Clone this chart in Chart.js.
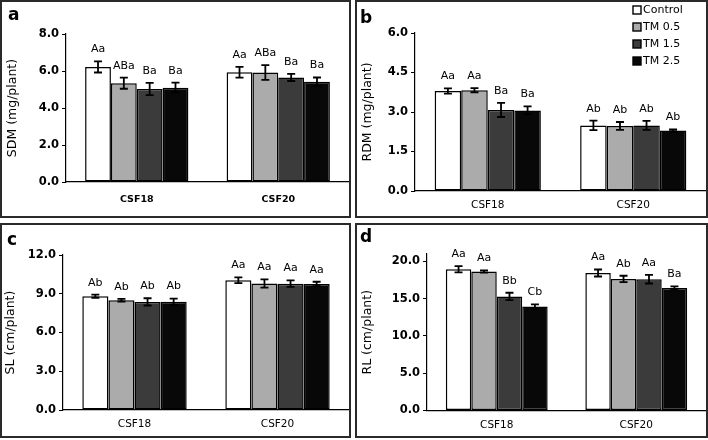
<!DOCTYPE html>
<html>
<head>
<meta charset="utf-8">
<script src="https://cdn.jsdelivr.net/npm/chart.js@4.4.1/dist/chart.umd.min.js"></script>
<style>
html, body { margin: 0; padding: 0; background: #fff; }
body { width: 708px; height: 440px; position: relative; overflow: hidden; }
.panel { position: absolute; box-sizing: border-box; border: 2px solid #2a2a2a; background: #fff; }
.panel .box { position: absolute; left: 0; top: 0; right: 0; bottom: 0; }
</style>
</head>
<body>
<div class="panel" style="left:0px;top:0px;width:351px;height:218px;"><div class="box"><canvas id="ca"></canvas></div></div>
<div class="panel" style="left:355px;top:0px;width:353px;height:218px;"><div class="box"><canvas id="cb"></canvas></div></div>
<div class="panel" style="left:0px;top:223px;width:351px;height:215px;"><div class="box"><canvas id="cc"></canvas></div></div>
<div class="panel" style="left:355px;top:223px;width:353px;height:215px;"><div class="box"><canvas id="cd"></canvas></div></div>
<script>
// ---- data ----
const categories = ['CSF18', 'CSF20'];
const seriesNames = ['Control', 'TM 0.5', 'TM 1.5', 'TM 2.5'];
const seriesColors = ['#ffffff', '#ababab', '#3b3b3b', '#080808'];

// rows = series (Control, TM 0.5, TM 1.5, TM 2.5), columns = categories (CSF18, CSF20)
const sdmMean = [[6.22, 5.93], [5.34, 5.92], [5.03, 5.65], [5.10, 5.42]];
const sdmErr = [[0.30, 0.29], [0.30, 0.40], [0.33, 0.19], [0.27, 0.23]];
const sdmLetters = [['Aa', 'Aa'], ['ABa', 'ABa'], ['Ba', 'Ba'], ['Ba', 'Ba']];
const sdmAxis = [0, 8, 2];

const rdmMean = [[3.80, 2.49], [3.83, 2.47], [3.08, 2.49], [3.06, 2.30]];
const rdmErr = [[0.10, 0.18], [0.08, 0.15], [0.27, 0.17], [0.15, 0.04]];
const rdmLetters = [['Aa', 'Ab'], ['Aa', 'Ab'], ['Ba', 'Ab'], ['Ba', 'Ab']];
const rdmAxis = [0, 6, 1.5];

const slMean = [[8.81, 10.05], [8.50, 9.79], [8.37, 9.78], [8.38, 9.76]];
const slErr = [[0.12, 0.22], [0.10, 0.32], [0.28, 0.25], [0.25, 0.17]];
const slLetters = [['Ab', 'Aa'], ['Ab', 'Aa'], ['Ab', 'Aa'], ['Ab', 'Aa']];
const slAxis = [0, 12, 3];

const rlMean = [[18.95, 18.45], [18.65, 17.65], [15.30, 17.62], [13.95, 16.45]];
const rlErr = [[0.42, 0.47], [0.15, 0.43], [0.50, 0.58], [0.30, 0.20]];
const rlLetters = [['Aa', 'Aa'], ['Aa', 'Ab'], ['Bb', 'Aa'], ['Cb', 'Ba']];
const rlAxis = [0, 21, 5];

// ---- drawing ----
const FONT = 'DejaVu Sans';
Chart.defaults.font.family = FONT;
Chart.defaults.color = '#000';

const decor = {
  id: 'decor',
  afterDatasetsDraw(chart, args, o) {
    const ctx = chart.ctx;
    const ys = chart.scales.y;
    ctx.save();
    chart.data.datasets.forEach((ds, i) => {
      const meta = chart.getDatasetMeta(i);
      meta.data.forEach((bar, j) => {
        const m = ds.data[j], e = o.errs[i][j];
        const yt = ys.getPixelForValue(m + e), yb = ys.getPixelForValue(m - e);
        ctx.strokeStyle = '#000';
        ctx.lineWidth = 1.8;
        ctx.beginPath();
        ctx.moveTo(bar.x, yt); ctx.lineTo(bar.x, yb);
        ctx.moveTo(bar.x - 4, yt); ctx.lineTo(bar.x + 4, yt);
        ctx.moveTo(bar.x - 4, yb); ctx.lineTo(bar.x + 4, yb);
        ctx.stroke();
        ctx.fillStyle = '#000';
        ctx.font = '11px "' + FONT + '"';
        ctx.textAlign = 'center';
        ctx.textBaseline = 'middle';
        ctx.fillText(o.letters[i][j], bar.x, yt - 12);
      });
    });
    ctx.fillStyle = '#000';
    ctx.font = 'bold 17px "' + FONT + '"';
    ctx.textAlign = 'left';
    ctx.textBaseline = 'alphabetic';
    ctx.fillText(o.panel, o.px, o.py);
    if (o.legend) {
      ctx.font = '11px "' + FONT + '"';
      ctx.textBaseline = 'middle';
      seriesNames.forEach((n, i) => {
        const cy = o.legend.y + i * o.legend.dy;
        ctx.fillStyle = seriesColors[i];
        ctx.fillRect(o.legend.x, cy - 4, 8, 8);
        ctx.strokeStyle = '#000';
        ctx.lineWidth = 1.4;
        ctx.strokeRect(o.legend.x, cy - 4, 8, 8);
        ctx.fillStyle = '#000';
        ctx.fillText(n, o.legend.x + 10, cy + 0.5);
      });
    }
    ctx.restore();
  }
};

function makePanel(id, o) {
  new Chart(document.getElementById(id), {
    type: 'bar',
    data: {
      labels: categories,
      datasets: seriesNames.map((n, i) => ({
        label: n,
        data: o.mean[i],
        backgroundColor: seriesColors[i],
        borderColor: '#000',
        borderWidth: 1.5,
        borderSkipped: false,
        categoryPercentage: 0.73,
        barPercentage: 1.0
      }))
    },
    options: {
      responsive: true,
      maintainAspectRatio: false,
      animation: false,
      events: [],
      layout: { autoPadding: false, padding: { top: o.top, left: 0, right: 0, bottom: 0 } },
      plugins: {
        legend: { display: false },
        tooltip: { enabled: false },
        decor: { errs: o.err, letters: o.letters, panel: o.panel, px: o.px, py: o.py, legend: o.legend || null }
      },
      scales: {
        x: {
          grid: { display: false, drawTicks: false },
          border: { display: true, color: '#000', width: 1.2 },
          ticks: { color: '#000', padding: o.xpad, font: { family: FONT, size: o.xsize, weight: o.xbold ? 'bold' : 'normal' } },
          afterFit: s => { s.height = o.xh; }
        },
        y: {
          min: o.axis[0], max: o.axis[1],
          ticks: {
            stepSize: o.axis[2], includeBounds: false, color: '#000', padding: 3,
            font: { family: FONT, size: 11.5, weight: 'bold' },
            callback: v => Number(v).toFixed(1)
          },
          grid: { display: true, drawOnChartArea: false, drawTicks: true, tickLength: 4, color: '#000' },
          border: { display: true, color: '#000', width: 1.2 },
          title: { display: true, text: o.title, color: '#000', font: { family: FONT, size: 12.5 }, padding: { top: o.tpad, bottom: 0 } },
          afterFit: s => { s.width = o.yw; }
        }
      }
    },
    plugins: [decor]
  });
}

makePanel('ca', { mean: sdmMean, err: sdmErr, letters: sdmLetters, axis: sdmAxis, title: 'SDM (mg/plant)',
  panel: 'a', px: 6, py: 18, top: 32, yw: 64, xh: 34, xpad: 12, xsize: 9.5, xbold: true, tpad: 3.5 });
makePanel('cb', { mean: rdmMean, err: rdmErr, letters: rdmLetters, axis: rdmAxis, title: 'RDM (mg/plant)',
  panel: 'b', px: 3, py: 21, top: 31, yw: 58, xh: 25, xpad: 8, xsize: 10.5, xbold: false, tpad: 3.5,
  legend: { x: 276, y: 8, dy: 17 } });
makePanel('cc', { mean: slMean, err: slErr, letters: slLetters, axis: slAxis, title: 'SL (cm/plant)',
  panel: 'c', px: 5, py: 20, top: 30, yw: 61, xh: 26, xpad: 8, xsize: 10.5, xbold: false, tpad: 1 });
makePanel('cd', { mean: rlMean, err: rlErr, letters: rlLetters, axis: rlAxis, title: 'RL (cm/plant)',
  panel: 'd', px: 3, py: 17, top: 29, yw: 70, xh: 25.5, xpad: 8, xsize: 10.5, xbold: false, tpad: 3.5 });
</script>
</body>
</html>
